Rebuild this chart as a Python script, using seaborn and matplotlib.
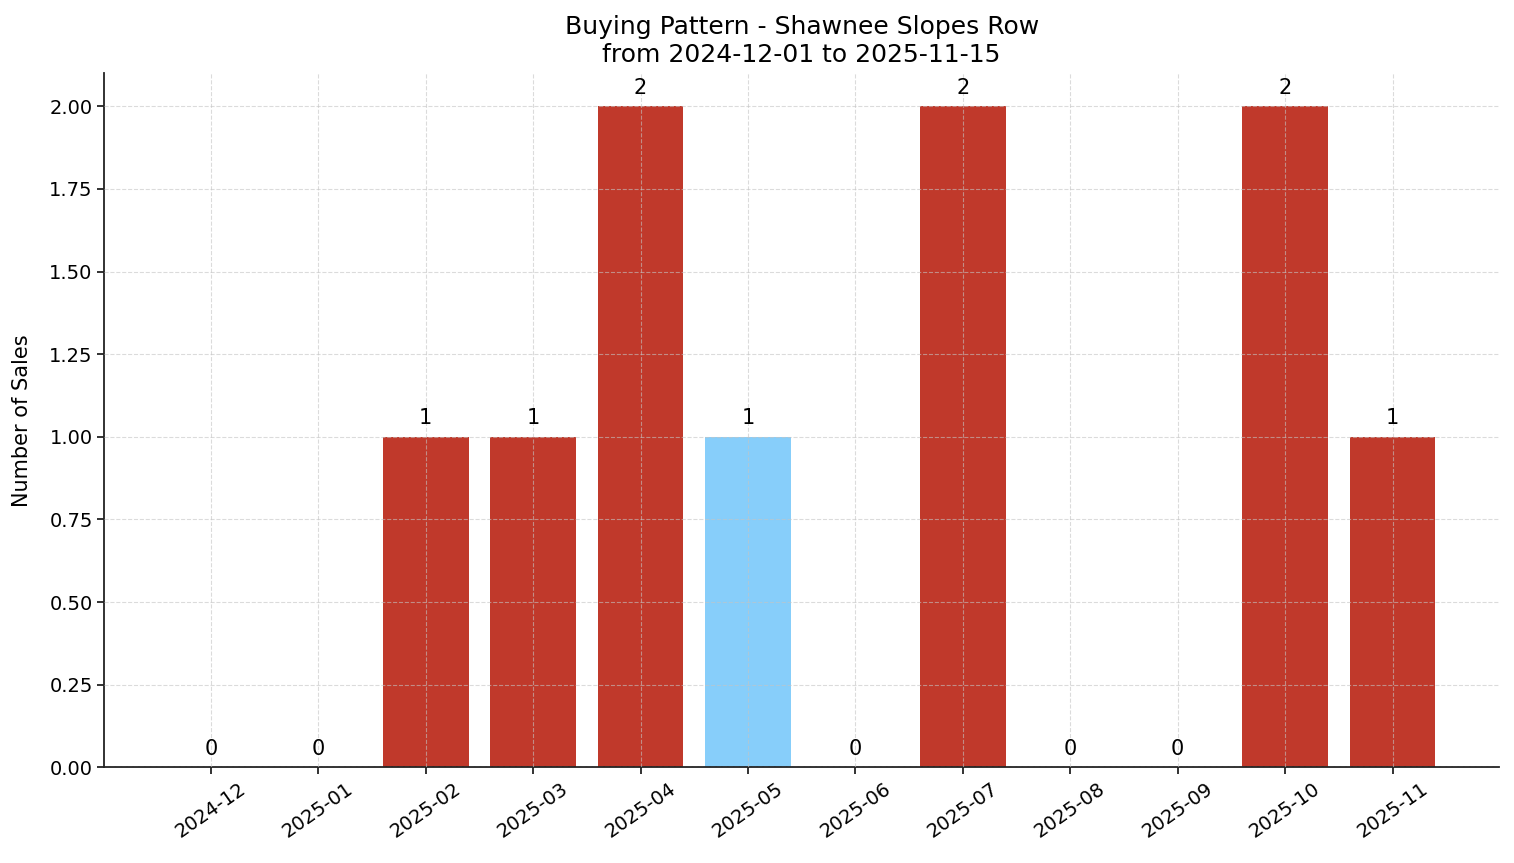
import numpy as np
import pandas as pd
import matplotlib
matplotlib.use('Agg')
import matplotlib.pyplot as plt
import seaborn as sns

months = ['2024-12', '2025-01', '2025-02', '2025-03', '2025-04', '2025-05',
          '2025-06', '2025-07', '2025-08', '2025-09', '2025-10', '2025-11']
sales = [0, 0, 1, 1, 2, 1, 0, 2, 0, 0, 2, 1]
highlight_month = '2025-05'

RED = '#c0392b'
BLUE = '#87cefa'

sns.set_style('white')
plt.rcParams['font.family'] = ['DejaVu Sans']
plt.rcParams.update({'text.color': 'black', 'axes.labelcolor': 'black',
                     'xtick.color': 'black', 'ytick.color': 'black'})

df = pd.DataFrame({'month': months, 'sales': sales})
palette = {m: (BLUE if m == highlight_month else RED) for m in months}

fig, ax = plt.subplots(figsize=(15.14, 8.63), dpi=100)
sns.barplot(data=df, x='month', y='sales', hue='month', palette=palette,
            legend=False, width=0.8, saturation=1, linewidth=0, ax=ax)

# count labels on top of every bar, zeros too
for cont in ax.containers:
    ax.bar_label(cont, labels=[f'{int(v)}' for v in cont.datavalues],
                 padding=6, fontsize=15)

ax.set_xlim(-0.99, len(months) - 0.01)
ax.set_ylim(0, 2.1)
ax.set_yticks(np.arange(0, 2.01, 0.25))
ax.yaxis.set_major_formatter(matplotlib.ticker.FormatStrFormatter('%.2f'))
ax.grid(True, linestyle='--', color='#c4c4c4', alpha=0.6, linewidth=0.8)
ax.set_axisbelow(False)
sns.despine(ax=ax)
for s in ['left', 'bottom']:
    ax.spines[s].set_color('#222222')
    ax.spines[s].set_linewidth(1.3)

ax.tick_params(axis='both', labelsize=14, length=5, width=1.3, color='#222222',
               bottom=True, left=True)
plt.setp(ax.get_xticklabels(), rotation=35, ha='center')
ax.set_xlabel('')
ax.set_ylabel('Number of Sales', fontsize=15, labelpad=12)
ax.set_title('Buying Pattern - Shawnee Slopes Row\nfrom 2024-12-01 to 2025-11-15',
             fontsize=18, pad=8)

fig.subplots_adjust(left=0.069, right=0.99, top=0.915, bottom=0.111)
fig.savefig('out.png', dpi=100)
